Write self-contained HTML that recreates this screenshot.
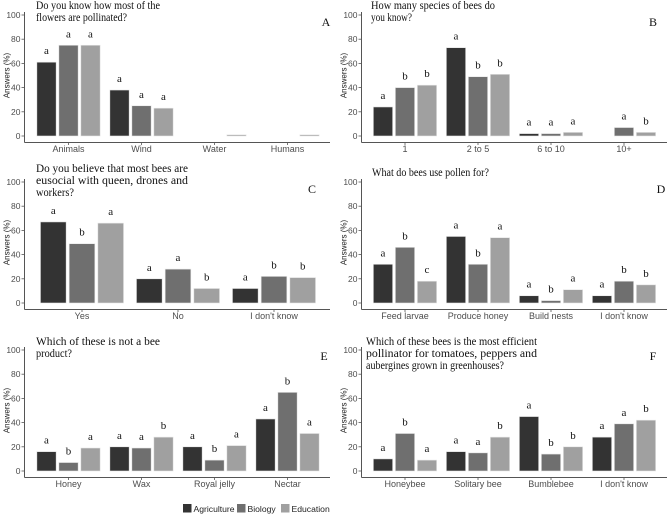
<!DOCTYPE html>
<html><head><meta charset="utf-8"><style>
html,body{margin:0;padding:0;background:#fff;}
svg{display:block;}
.tick{font-family:"Liberation Sans",sans-serif;font-size:8.5px;fill:#4d4d4d;}
.cat{font-family:"Liberation Sans",sans-serif;font-size:9px;fill:#4d4d4d;}
.ytitle{font-family:"Liberation Sans",sans-serif;font-size:8px;fill:#222;}
.title{font-family:"Liberation Serif",serif;font-size:12px;fill:#111;}
.sig{font-family:"Liberation Serif",serif;font-size:11px;fill:#111;}
.leg{font-family:"Liberation Sans",sans-serif;font-size:8.6px;fill:#222;}
</style></head><body>
<svg id="chart" width="669" height="515" viewBox="0 0 669 515" xmlns="http://www.w3.org/2000/svg"></svg>
<script>
const groups = ["Agriculture","Biology","Education"];
const colors = ["#333333","#6f6f6f","#a0a0a0"];
const yTicks = [0,20,40,60,80,100];

const catsA = ["Animals","Wind","Water","Humans"];
const valsA = [[61,75,75],[38,25,23],[0,0,1],[0,0,1]];
const sigA = [["a","a","a"],["a","a","a"],["","",""],["","",""]];

const catsB = ["1","2 to 5","6 to 10","10+"];
const valsB = [[24,40,42],[73,49,51],[2,2,3],[0,7,3]];
const sigB = [["a","b","b"],["a","b","b"],["a","a","a"],["","a","b"]];

const catsC = ["Yes","No","I don't know"];
const valsC = [[67,49,66],[20,28,12],[12,22,21]];
const sigC = [["a","b","a"],["a","a","b"],["a","b","b"]];

const catsD = ["Feed larvae","Produce honey","Build nests","I don't know"];
const valsD = [[32,46,18],[55,32,54],[6,2,11],[6,18,15]];
const sigD = [["a","b","c"],["a","b","a"],["a","b","a"],["a","b","b"]];

const catsE = ["Honey","Wax","Royal jelly","Nectar"];
const valsE = [[16,7,19],[20,19,28],[20,9,21],[43,65,31]];
const sigE = [["a","b","a"],["a","a","b"],["a","b","a"],["a","b","a"]];

const catsF = ["Honeybee","Solitary bee","Bumblebee","I don't know"];
const valsF = [[10,31,9],[16,15,28],[45,14,20],[28,39,42]];
const sigF = [["a","b","a"],["a","a","b"],["a","b","b"],["a","a","b"]];

const NS="http://www.w3.org/2000/svg";
const svg=document.getElementById('chart');
function mk(tag,attrs,parent,text){const e=document.createElementNS(NS,tag);for(const k in attrs)e.setAttribute(k,attrs[k]);if(text!==undefined)e.textContent=text;(parent||svg).appendChild(e);return e;}

function panel(id,cats,vals,sigs,ax,y0,xEnd,c0,step,stride,bw,titleLines,widths,titleX,titleY,letter,lx,ly){
  const g=mk('g',{});
  
  
  const sc=1.21;
  const yS=v=>y0-v*sc;
  const xS=(ci,gi)=>c0+ci*step+(gi-1)*stride;
  const ya=mk('line',{x1:ax,y1:yS(100)-3,x2:ax,y2:y0+6.5,stroke:'#555','stroke-width':1},g);
  
  
  const xa=mk('line',{x1:ax,y1:y0+6.5,x2:xEnd,y2:y0+6.5,stroke:'#555','stroke-width':1},g);
  
  
  yTicks.forEach(t=>{
    mk('line',{x1:ax-3,y1:yS(t),x2:ax,y2:yS(t),stroke:'#555','stroke-width':0.8},g);
    const tl=mk('text',{x:ax-4,y:yS(t)+3,'text-anchor':'end',class:'tick'},g,String(t));
    
    
  });
  const yt=mk('text',{x:0,y:0,class:'ytitle','text-anchor':'middle',transform:`translate(${ax-15},${yS(50)}) rotate(-90)`},g,'Answers (%)');
  
  
  cats.forEach((c,ci)=>{
    const cx=c0+ci*step;
    mk('line',{x1:cx,y1:y0+6.5,x2:cx,y2:y0+9,stroke:'#555','stroke-width':0.8},g);
    const cl=mk('text',{x:cx,y:y0+16,'text-anchor':'middle',class:'cat'},g,c);
    
    
    vals[ci].forEach((v,gi)=>{
      const x=xS(ci,gi)-bw/2;
      if(v>0){
        const r=mk('rect',{x:x,y:yS(v),width:bw,height:Math.max(v*sc,1),fill:colors[gi],stroke:'#e6e6e6','stroke-width':0.6},g);
        
        
      }
      const s=sigs[ci][gi];
      if(s){
        const st=mk('text',{x:xS(ci,gi),y:yS(v)-8,'text-anchor':'middle',class:'sig'},g,s);
        
        
      }
    });
  });
  titleLines.forEach((ln,i)=>{
    const t=mk('text',{x:titleX,y:titleY+i*12,class:'title',textLength:widths[i],lengthAdjust:'spacingAndGlyphs'},g,ln);
    
    
  });
  const L=mk('text',{x:lx,y:ly,'text-anchor':'middle',class:'title','font-size':'11px'},g,letter);
  
  
}

panel('a',catsA,valsA,sigA,24.5,136,330,68.5,73,22,19.3,["Do you know how most of the","flowers are pollinated?"],[124,91],36,9,'A',326,26);
panel('b',catsB,valsB,sigB,361.5,136,667,405,73,22,19.3,["How many species of bees do","you know?"],[124,41],371,9,'B',653,26);
panel('c',catsC,valsC,sigC,24.5,303,330,82,96,28.7,25.7,["Do you believe that most bees are","eusocial with queen, drones and","workers?"],[152,152,38],36,172,'C',312,193);
panel('d',catsD,valsD,sigD,361.5,303,667,405,73,22,19.3,["What do bees use pollen for?"],[117],372,176,'D',661,193);
panel('e',catsE,valsE,sigE,24.5,471,330,68.5,73,22,19.3,["Which of these is not a bee","product?"],[124,36],36,345,'E',324,360);
panel('f',catsF,valsF,sigF,361.5,471,667,405,73,22,19.3,["Which of these bees is the most efficient","pollinator for tomatoes, peppers and","aubergines grown in greenhouses?"],[171,171,138],366,345,'F',653,360);

const lg=mk('g',{});


const legX=[183,237,281];
groups.forEach((n,i)=>{
  const e=mk('g',{},lg);
  
  
  mk('rect',{x:legX[i],y:504,width:8.5,height:8.5,fill:colors[i]},e);
  mk('text',{x:legX[i]+10.5,y:512,class:'leg'},e,n);
});
</script>
</body></html>
